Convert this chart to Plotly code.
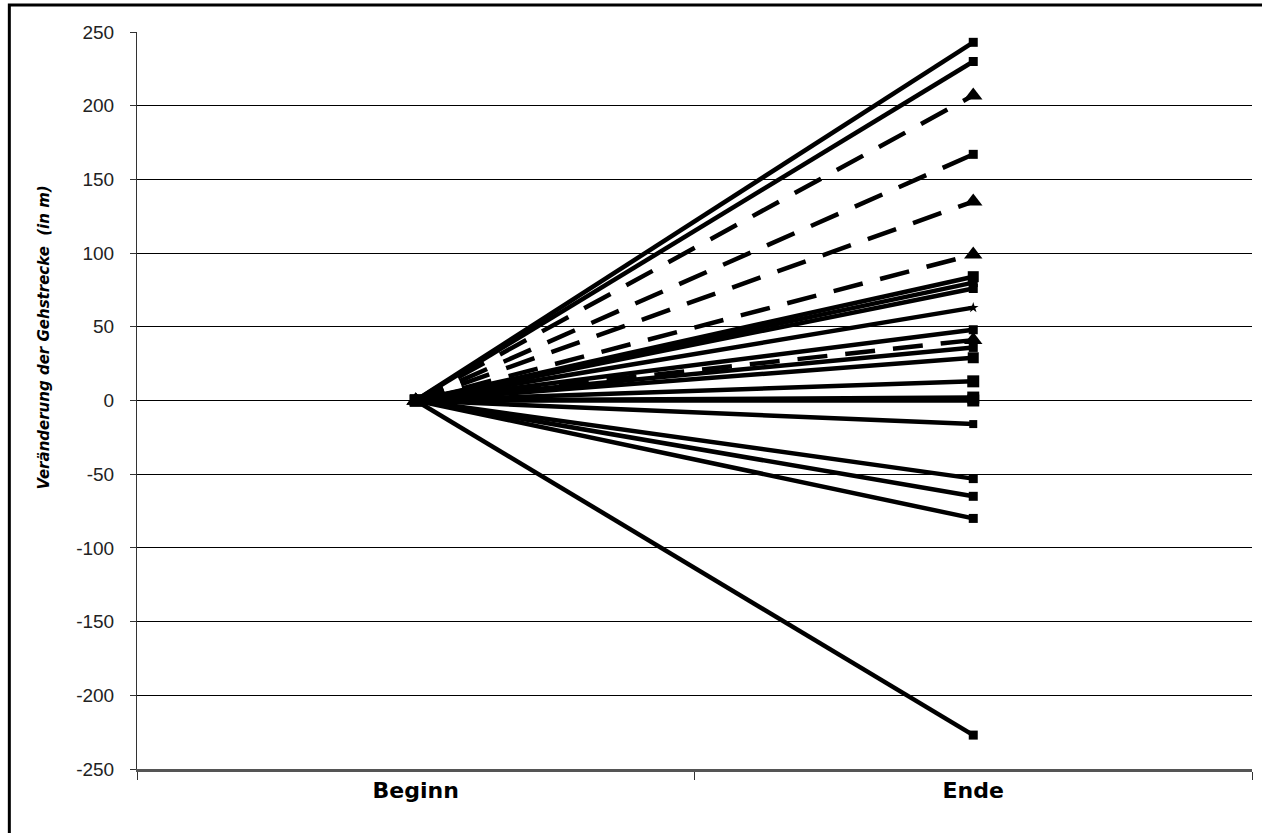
import plotly.graph_objects as go

categories = ["Beginn", "Ende"]

# End values (change in walking distance, m); all start at 0
solid_end = [243, 230, 84, 80, 76, 63, 48, 36, 29, 13, 2, 0, -16, -53, -65, -80, -227]
solid_marker = ["square", "square", "square", "square", "square", "star", "square", "square",
                "square", "square", "square", "square", "square", "square", "square", "square", "square"]
solid_msize = [9, 9, 11, 9, 9, 8, 9, 9, 11, 12, 12, 12, 8, 9, 9, 9, 9]

dashed_end = [207, 167, 135, 99, 41]
dashed_marker = ["triangle-up", "square", "triangle-up", "triangle-up", "triangle-up"]
dashed_msize = [16, 9, 16, 16, 16]

start_value = 0

y_tickvals = [-250, -200, -150, -100, -50, 0, 50, 100, 150, 200, 250]
y_ticktext = ["-250", "-200", "-150", "-100", "-50", "0", "50", "100", "150", "200", "250"]

fig = go.Figure()

for v, m, s in zip(solid_end, solid_marker, solid_msize):
    fig.add_trace(go.Scatter(
        x=categories, y=[start_value, v], mode="lines+markers",
        line=dict(color="black", width=4.5),
        marker=dict(symbol=m, size=s, color="black"),
        showlegend=False, hoverinfo="skip"))

for v, m, s in zip(dashed_end, dashed_marker, dashed_msize):
    fig.add_trace(go.Scatter(
        x=categories, y=[start_value, v], mode="lines+markers",
        line=dict(color="black", width=4.5, dash="30px,18px"),
        marker=dict(symbol=m, size=s, color="black"),
        showlegend=False, hoverinfo="skip"))

fig.update_layout(
    width=1262, height=833,
    margin=dict(l=137, r=10, t=32, b=64),
    paper_bgcolor="white", plot_bgcolor="white",
    font=dict(family="DejaVu Sans", color="#222"),
    xaxis=dict(
        type="category", range=[-0.5, 1.5],
        tickson="boundaries", ticks="outside", ticklen=8, tickcolor="#333", tickwidth=1,
        showline=True, linecolor="#555", linewidth=3,
        showgrid=False, zeroline=False,
        tickfont=dict(family="DejaVu Sans", size=22, color="black", weight="bold"),
        ticklabelstandoff=0,
    ),
    yaxis=dict(
        range=[-250, 250], tickmode="array", tickvals=y_tickvals, ticktext=y_ticktext,
        ticks="outside", ticklen=6, tickcolor="#333",
        showline=True, linecolor="#333", linewidth=1,
        showgrid=True, gridcolor="black", gridwidth=1,
        zeroline=False,
        tickfont=dict(family="Liberation Sans", size=19, color="#222"),
        ticklabelstandoff=12,
    ),
    annotations=[dict(
        text="<b><i>Veränderung der Gehstrecke  (in m)</i></b>",
        xref="paper", yref="paper", x=-0.083, y=0.586,
        textangle=-90, showarrow=False,
        font=dict(family="DejaVu Sans", size=15, color="black"),
        xanchor="center", yanchor="middle")],
    shapes=[dict(
        type="rect", xref="paper", yref="paper",
        x0=-0.1145, x1=1.02, y0=-0.12, y1=1.0366,
        line=dict(color="black", width=3), fillcolor="rgba(0,0,0,0)", layer="above")],
)

fig.write_html("out.html", config={"displayModeBar": False},
               post_script="document.body.style.margin='0';document.body.style.overflow='hidden';")
